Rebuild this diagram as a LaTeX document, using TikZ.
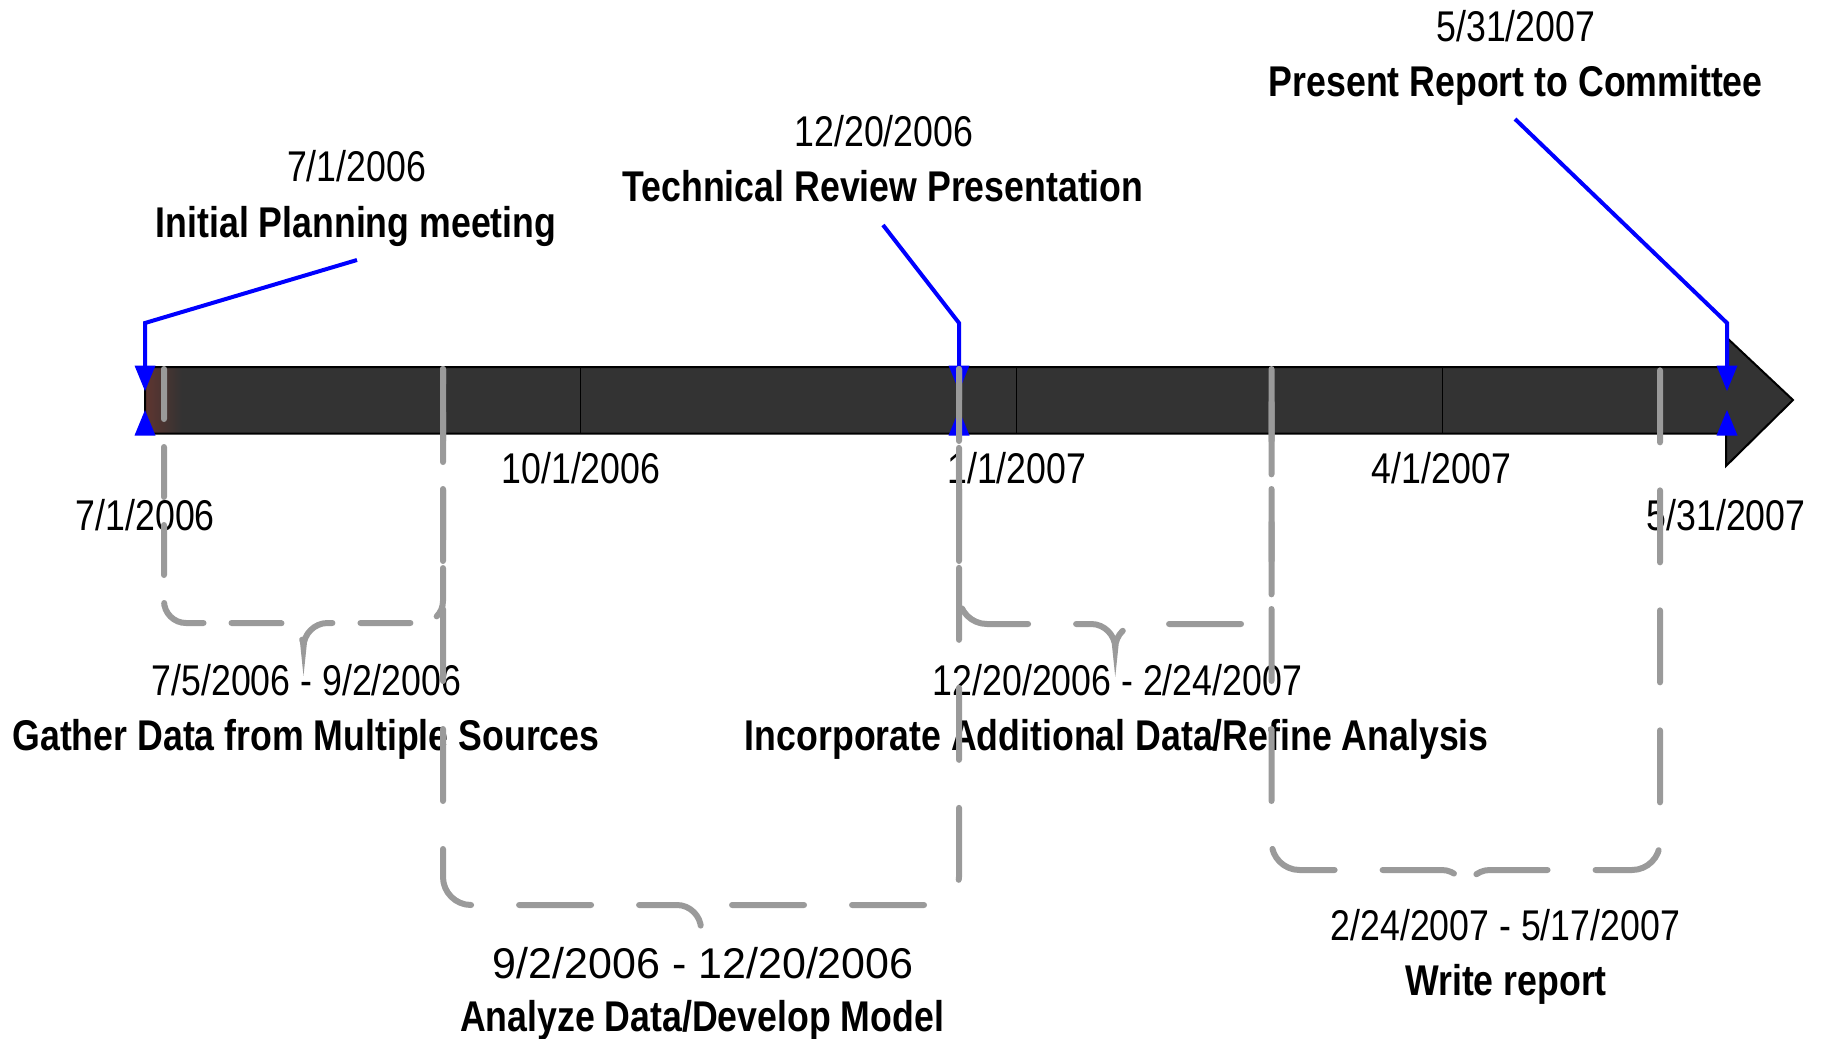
\documentclass[tikz,border=0pt]{standalone}
\usepackage{fontspec}
\newfontfamily\labfont[FakeStretch=0.83]{Liberation Sans}
\newfontfamily\labwidefont{Liberation Sans}
\definecolor{barfill}{HTML}{333333}
\definecolor{bracegray}{HTML}{9A9A9A}
\definecolor{barred}{HTML}{5E3530}
\begin{document}
\begin{tikzpicture}[x=1pt,y=-1pt,
  datelab/.style={font=\labfont\fontsize{43}{50}\selectfont, anchor=base, inner sep=0pt},
  widelab/.style={font=\labwidefont\fontsize{43}{50}\selectfont, anchor=base, inner sep=0pt},
  titlelab/.style={font=\labfont\bfseries\fontsize{43}{50}\selectfont, anchor=base, inner sep=0pt},
  pointer/.style={draw=blue, line width=4pt, line join=miter},
  bracepath/.style={draw=bracegray, line width=6pt, line cap=round},
  divider/.style={draw=black, line width=1.5pt}]
\useasboundingbox (0,0) rectangle (1824,1039);
% timeline bar
\fill[barfill] (145,367) -- (1726,367) -- (1726,337) -- (1793,400) -- (1726,466) -- (1726,433.5) -- (145,433.5) -- cycle;
\shade[left color=barred, right color=barfill] (146,368) rectangle (182,432.5);
\draw[line width=2pt, line join=miter] (145,367) -- (1726,367) -- (1726,337) -- (1793,400) -- (1726,466) -- (1726,433.5) -- (145,433.5) -- cycle;
\foreach \dx in {580.5,1016.7,1442.5} {\draw[divider] (\dx,367) -- (\dx,433.5);}
% text
\node[datelab] (d1top) at (356.5,181.7) {7/1/2006};
\node[titlelab] (t1) at (356,237.3) {Initial Planning meeting};
\node[datelab] (d2top) at (884,146.7) {12/20/2006};
\node[titlelab] (t2) at (883,201.7) {Technical Review Presentation};
\node[datelab] (d3top) at (1515.8,41.7) {5/31/2007};
\node[titlelab] (t3) at (1515.8,96.7) {Present Report to Committee};
\node[datelab] (a0) at (145.4,530) {7/1/2006};
\node[datelab] (a1) at (581,483) {10/1/2006};
\node[datelab] (a2) at (1016.7,483) {1/1/2007};
\node[datelab] (a3) at (1441.4,483) {4/1/2007};
\node[datelab] (a4) at (1726,530) {5/31/2007};
\node[datelab] (r1) at (306.5,695) {7/5/2006 - 9/2/2006};
\node[titlelab] (g1) at (306,750) {Gather Data from Multiple Sources};
\node[widelab] (r2) at (703.3,978.3) {9/2/2006 - 12/20/2006};
\node[titlelab] (g2) at (702,1031.7) {Analyze Data/Develop Model};
\node[datelab] (r3) at (1117.4,695) {12/20/2006 - 2/24/2007};
\node[titlelab] (g3) at (1116.8,750) {Incorporate Additional Data/Refine Analysis};
\node[datelab] (r4) at (1505.3,940) {2/24/2007 - 5/17/2007};
\node[titlelab] (g4) at (1506,995) {Write report};
% milestone pointers
\coordinate (p1end) at (357,260);   \coordinate (p1bend) at (145,323);  \coordinate (p1bar) at (145,366);
\coordinate (p2end) at (883,225);   \coordinate (p2bend) at (959,323);  \coordinate (p2bar) at (959,366);
\coordinate (p3end) at (1515,119);  \coordinate (p3bend) at (1727,323); \coordinate (p3bar) at (1727,366);
\draw[pointer] (p1end) -- (p1bend) -- (p1bar);
\draw[pointer] (p2end) -- (p2bend) -- (p2bar);
\draw[pointer] (p3end) -- (p3bend) -- (p3bar);
\foreach \mx in {145,959,1727} {
  \fill[blue] (\mx-10.5,365.5) -- (\mx+10.5,365.5) -- (\mx,391) -- cycle;
  \fill[blue] (\mx-10.5,435.5) -- (\mx+10.5,435.5) -- (\mx,410) -- cycle;
}
% dashed braces
\foreach \xl/\xr/\yh/\rr/\dOn/\dOff in {164/443/623/22/50/28, 443/959/905/28/72/48, 959/1271.5/624/28/72/48, 1271.5/1660/870/28/72/48} {
  \pgfmathsetmacro\xm{(\xl+\xr)/2}
  \draw[bracepath, dash pattern=on \dOn pt off \dOff pt]
    (\xl,369) -- (\xl,\yh-\rr)
    .. controls (\xl,\yh-0.45*\rr) and (\xl+0.45*\rr,\yh) .. (\xl+\rr,\yh)
    -- (\xm-24,\yh)
    .. controls (\xm-11,\yh) and (\xm,\yh+11) .. (\xm,\yh+24)
    .. controls (\xm,\yh+11) and (\xm+11,\yh) .. (\xm+24,\yh)
    -- (\xr-\rr,\yh)
    .. controls (\xr-0.45*\rr,\yh) and (\xr,\yh-0.45*\rr) .. (\xr,\yh-\rr)
    -- (\xr,369);
}
\end{tikzpicture}
\end{document}
